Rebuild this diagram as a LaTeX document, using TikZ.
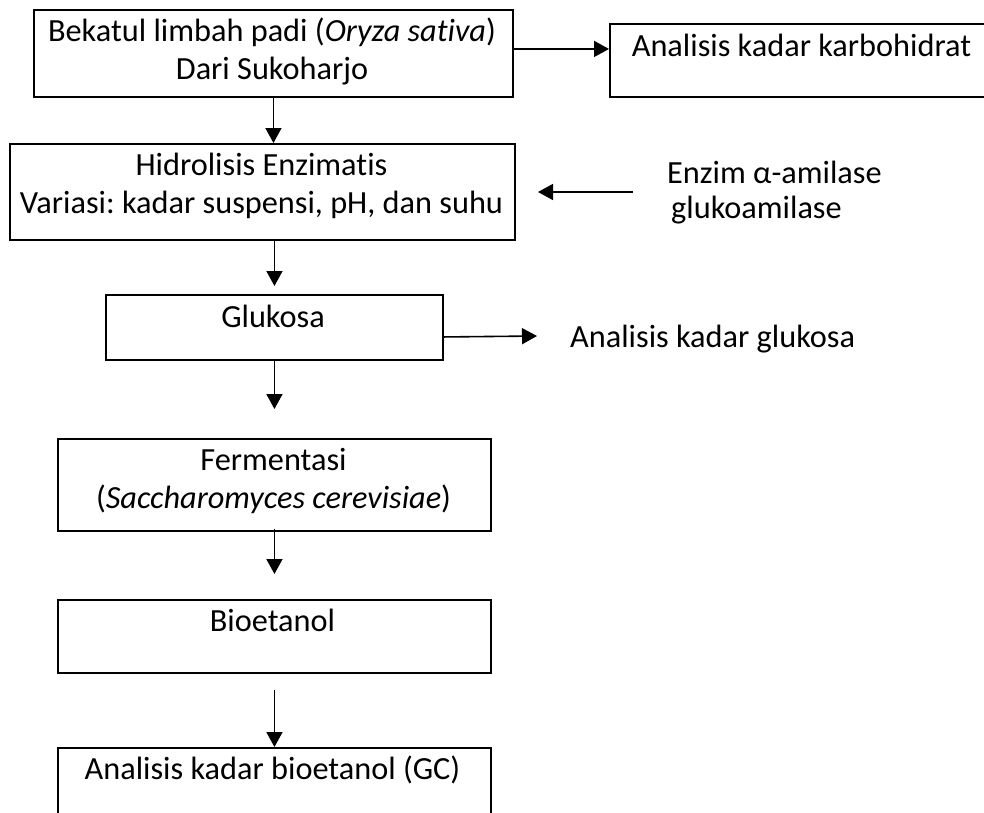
\documentclass[tikz,border=0pt]{standalone}
\usepackage{fontspec}
\setmainfont{Carlito}[Ligatures=CommonOff]
\usetikzlibrary{arrows.meta,calc}
\frenchspacing

\tikzset{
  box/.style={draw, line width=1.9pt, anchor=north west, inner sep=0pt},
  txt/.style={inner sep=0pt, align=center, anchor=base},
  arr/.style={line width=1.6pt, -{Triangle[length=15pt,width=16pt]}}
}

\begin{document}
\begin{tikzpicture}[x=1pt,y=-1pt,font=\fontsize{32.3}{38}\selectfont]
  \useasboundingbox (0,0) rectangle (984,812);

  % Boxes
  \node[box, minimum width=479pt, minimum height=87pt] (bekatul) at (33,9) {};
  \node[box, minimum width=400pt, minimum height=73pt] (karbo) at (609,23) {};
  \node[box, minimum width=505pt, minimum height=96pt] (hidro) at (9,143) {};
  \node[box, minimum width=337pt, minimum height=65pt] (gluk) at (105,294) {};
  \node[box, minimum width=433pt, minimum height=92pt] (ferm) at (57,438) {};
  \node[box, minimum width=433pt, minimum height=73pt] (bio) at (57,599) {};
  \node[box, minimum width=433pt, minimum height=90pt] (anabio) at (57,747) {};

  % Texts (base = last line)
  \node[txt] (bekatul-t) at (272,79) {Bekatul limbah padi (\textit{Oryza sativa})\\Dari Sukoharjo};
  \node[txt] (karbo-t) at (801.5,56) {Analisis kadar karbohidrat};
  \node[txt] (hidro-t) at (261.5,213) {Hidrolisis Enzimatis\\Variasi: kadar suspensi, pH, dan suhu};
  \node[txt, align=left, anchor=base west, font=\fontsize{32.3}{35}\selectfont] (enzim) at (667,218) {Enzim α-amilase\\\hspace*{4pt}glukoamilase};
  \node[txt] (gluk-t) at (273,327) {Glukosa};
  \node[txt, anchor=base west] (glukana) at (570,347) {Analisis kadar glukosa};
  \node[txt] (ferm-t) at (273.5,508) {Fermentasi\\(\textit{Saccharomyces cerevisiae})};
  \node[txt] (bio-t) at (272.5,631) {Bioetanol};
  \node[txt] (anabio-t) at (272.5,779) {Analisis kadar bioetanol (GC)};

  % Arrows
  \coordinate (k1) at ([yshift=4.5pt]bekatul.east);
  \coordinate (enz-start) at (633,192);
  \coordinate (enz-end) at (538,192);
  \coordinate (g1) at ([yshift=-9.5pt]gluk.east);
  \coordinate (g2) at (537,336);

  \draw[arr] (k1) -- (k1 -| karbo.west);
  \draw[arr] (bekatul.south) -- (bekatul.south |- hidro.north);
  \draw[arr] (enz-start) -- (enz-end);
  \draw[arr] (gluk.north |- hidro.south) -- ([yshift=8pt]gluk.north);
  \draw[arr] (g1) -- (g2);
  \draw[arr] (gluk.south) -- ([yshift=29pt]ferm.north);
  \draw[arr] ([yshift=3pt]ferm.south) -- ([yshift=25pt]bio.north);
  \draw[arr] ([yshift=-16pt]bio.south) -- (anabio.north);
\end{tikzpicture}
\end{document}
